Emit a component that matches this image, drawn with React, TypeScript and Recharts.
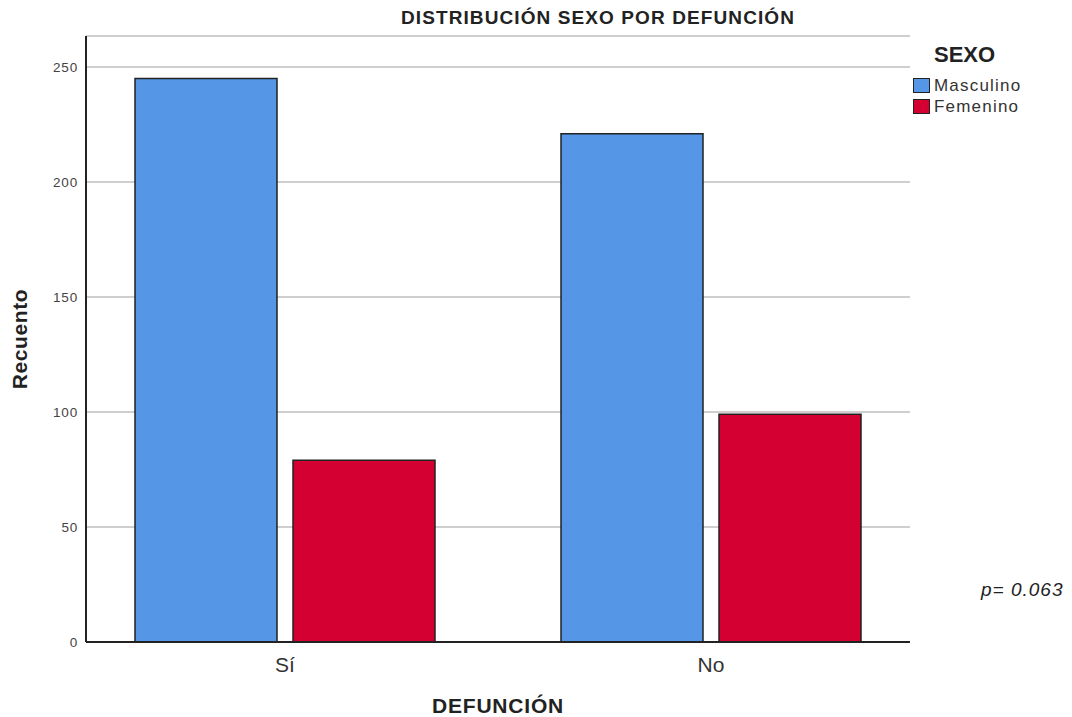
import { BarChart, Bar, XAxis, YAxis, CartesianGrid, Label } from 'recharts';

const categories = ['Sí', 'No'];
const masculino = [245, 221];
const femenino = [79, 99];
const yTicks = [0, 50, 100, 150, 200, 250];

const data = categories.map((name, i) => ({
  name,
  Masculino: masculino[i],
  Femenino: femenino[i],
}));

const FONT = '"Liberation Sans", Arial, sans-serif';
const BLUE = '#5596E6';
const RED = '#D50032';

const legendItems = [
  { label: 'Masculino', color: BLUE },
  { label: 'Femenino', color: RED },
];

function LegendBox() {
  return (
    <div style={{ position: 'absolute', left: 913, top: 42, fontFamily: FONT, color: '#222' }}>
      <div style={{ fontWeight: 'bold', fontSize: 22, marginLeft: 21, marginBottom: 7, lineHeight: '26px' }}>SEXO</div>
      {legendItems.map((it) => (
        <div key={it.label} style={{ display: 'flex', alignItems: 'center', height: 21 }}>
          <span
            style={{
              display: 'inline-block',
              width: 17,
              height: 15,
              background: it.color,
              border: '1.5px solid #222',
              boxSizing: 'border-box',
              marginRight: 4,
            }}
          />
          <span style={{ fontSize: 17, letterSpacing: 1.2, color: '#333' }}>{it.label}</span>
        </div>
      ))}
    </div>
  );
}

export default function App() {
  return (
    <div style={{ position: 'absolute', left: 0, top: 0, width: 1072, height: 717, background: '#fff', fontFamily: FONT }}>
      <div
        style={{
          position: 'absolute',
          top: 7,
          left: 598,
          transform: 'translateX(-50%)',
          fontWeight: 'bold',
          fontSize: 19,
          letterSpacing: 1.1,
          color: '#222',
          whiteSpace: 'nowrap',
        }}
      >
        DISTRIBUCIÓN SEXO POR DEFUNCIÓN
      </div>
      <div
        style={{
          position: 'absolute',
          top: 579,
          left: 981,
          fontStyle: 'italic',
          fontSize: 19,
          letterSpacing: 1,
          color: '#222',
          whiteSpace: 'nowrap',
        }}
      >
        p= 0.063
      </div>
      <LegendBox />
      <BarChart
        width={1072}
        height={717}
        data={data}
        margin={{ top: 36, right: 162, left: 26, bottom: 0 }}
        barCategoryGap={63}
        barGap={16}
      >
        <CartesianGrid horizontal vertical={false} stroke="#cfcfcf" strokeWidth={2} />
        <XAxis
          dataKey="name"
          height={75}
          padding={{ left: -14, right: -14 }}
          axisLine={{ stroke: '#222', strokeWidth: 2 }}
          tickLine={false}
          tick={{ fill: '#333', fontSize: 21, fontFamily: FONT }}
          tickMargin={9}
        >
          <Label
            value="DEFUNCIÓN"
            position="insideBottom"
            offset={4}
            style={{ fontWeight: 'bold', fontSize: 21, letterSpacing: 0.8, fill: '#222', fontFamily: FONT }}
          />
        </XAxis>
        <YAxis
          width={60}
          domain={[0, 263.5]}
          ticks={yTicks}
          allowDataOverflow
          axisLine={{ stroke: '#222', strokeWidth: 2 }}
          tickLine={false}
          tickSize={0}
          tickMargin={8}
          tick={{ fill: '#444', fontSize: 13.5, letterSpacing: 0.8, fontFamily: FONT }}
        >
          <Label
            value="Recuento"
            angle={-90}
            position="insideLeft"
            offset={-6}
            style={{ textAnchor: 'middle', fontWeight: 'bold', fontSize: 21, letterSpacing: 0.6, fill: '#222', fontFamily: FONT }}
          />
        </YAxis>
        <Bar dataKey="Masculino" fill={BLUE} stroke="#222" strokeWidth={1.5} isAnimationActive={false} />
        <Bar dataKey="Femenino" fill={RED} stroke="#222" strokeWidth={1.5} isAnimationActive={false} />
      </BarChart>
    </div>
  );
}
